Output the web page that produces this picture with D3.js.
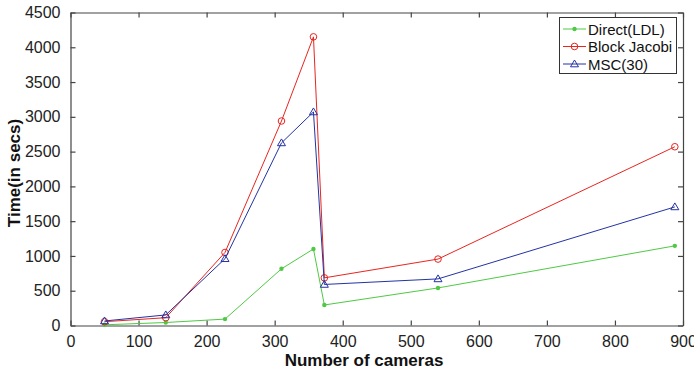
<!DOCTYPE html>
<html>
<head>
<meta charset="utf-8">
<script src="https://cdn.jsdelivr.net/npm/d3@7"></script>
<style>
  body { margin: 0; background: #fff; }
  svg { display: block; font-family: "Liberation Sans", Arial, sans-serif; }
</style>
</head>
<body>
<svg id="chart" width="694" height="373"></svg>
<script>
const cameras = [50, 140, 227, 310, 357, 373, 540, 888]
const directLDL = [10, 43, 92, 815, 1100, 295, 540, 1145]
const blockJacobi = [55, 112, 1050, 2940, 4150, 685, 955, 2570]
const msc30 = [65, 152, 960, 2625, 3070, 590, 670, 1705]
const xTicks = [0, 100, 200, 300, 400, 500, 600, 700, 800, 900]
const yTicks = [0, 500, 1000, 1500, 2000, 2500, 3000, 3500, 4000, 4500]

const series = [
  { name: "Direct(LDL)", values: directLDL, color: "#4fc944", marker: "dot" },
  { name: "Block Jacobi", values: blockJacobi, color: "#e8251f", marker: "circle" },
  { name: "MSC(30)", values: msc30, color: "#2433a3", marker: "tri" }
]

const m = { left: 70.5, right: 683, top: 12.5, bottom: 325.5 }
const svg = d3.select("#chart")
const x = d3.scaleLinear().domain([0, 900]).range([m.left, m.right])
const y = d3.scaleLinear().domain([0, 4500]).range([m.bottom, m.top])
const axisColor = "#444"
const tk = 5
const fmt = d3.format("d")

// axes on all four sides, ticks inward
const gB = svg.append("g").attr("transform", `translate(0,${m.bottom})`)
  .call(d3.axisBottom(x).tickValues(xTicks).tickFormat(fmt).tickSizeInner(-tk).tickSizeOuter(0).tickPadding(10))
const gT = svg.append("g").attr("transform", `translate(0,${m.top})`)
  .call(d3.axisTop(x).tickValues(xTicks).tickSizeInner(-tk).tickSizeOuter(0).tickFormat(""))
const gL = svg.append("g").attr("transform", `translate(${m.left},0)`)
  .call(d3.axisLeft(y).tickValues(yTicks).tickFormat(fmt).tickSizeInner(-tk).tickSizeOuter(0).tickPadding(10))
const gR = svg.append("g").attr("transform", `translate(${m.right},0)`)
  .call(d3.axisRight(y).tickValues(yTicks).tickSizeInner(-tk).tickSizeOuter(0).tickFormat(""))

;[gB, gT, gL, gR].forEach(g => {
  g.select(".domain").attr("stroke", axisColor).attr("stroke-width", 1.2)
  g.selectAll(".tick line").attr("stroke", axisColor).attr("stroke-width", 1.2)
  g.selectAll(".tick text").attr("fill", "#222").style("font-size", "16px")
})

// lines + markers
const line = d3.line().x((d, i) => x(cameras[i])).y(d => y(d))
function drawMarker(g, type, cx, cy, color) {
  if (type === "dot") {
    g.append("circle").attr("cx", cx).attr("cy", cy).attr("r", 2.2).attr("fill", color)
  } else if (type === "circle") {
    g.append("circle").attr("cx", cx).attr("cy", cy).attr("r", 3.3)
      .attr("fill", "none").attr("stroke", color).attr("stroke-width", 1)
  } else {
    const s = 4
    g.append("path").attr("d", `M${cx},${cy - s}L${cx + s},${cy + s * 0.7}L${cx - s},${cy + s * 0.7}Z`)
      .attr("fill", "none").attr("stroke", color).attr("stroke-width", 1)
  }
}
series.forEach(s => {
  svg.append("path").attr("d", line(s.values)).attr("fill", "none")
    .attr("stroke", s.color).attr("stroke-width", 1)
  const g = svg.append("g")
  s.values.forEach((v, i) => drawMarker(g, s.marker, x(cameras[i]), y(v), s.color))
})

// legend
const lg = svg.append("g")
lg.append("rect").attr("x", 559.5).attr("y", 17.5).attr("width", 117).attr("height", 56)
  .attr("fill", "#fff").attr("stroke", "#333").attr("stroke-width", 1)
series.forEach((s, i) => {
  const cy = 29 + i * 17.5
  lg.append("line").attr("x1", 563).attr("x2", 586).attr("y1", cy).attr("y2", cy)
    .attr("stroke", s.color).attr("stroke-width", 1)
  drawMarker(lg, s.marker, 574.5, cy, s.color)
  lg.append("text").attr("x", 588).attr("y", cy + 5.5).text(s.name)
    .style("font-size", "15px").attr("fill", "#111")
})

// axis labels
svg.append("text").attr("x", 364).attr("y", 366).attr("text-anchor", "middle")
  .style("font-size", "17px").style("font-weight", "bold").attr("fill", "#111").text("Number of cameras")
svg.append("text").attr("transform", "translate(20,173) rotate(-90)")
  .attr("text-anchor", "middle").style("font-size", "17px").style("font-weight", "bold")
  .attr("fill", "#111").text("Time(in secs)")
</script>
</body>
</html>
